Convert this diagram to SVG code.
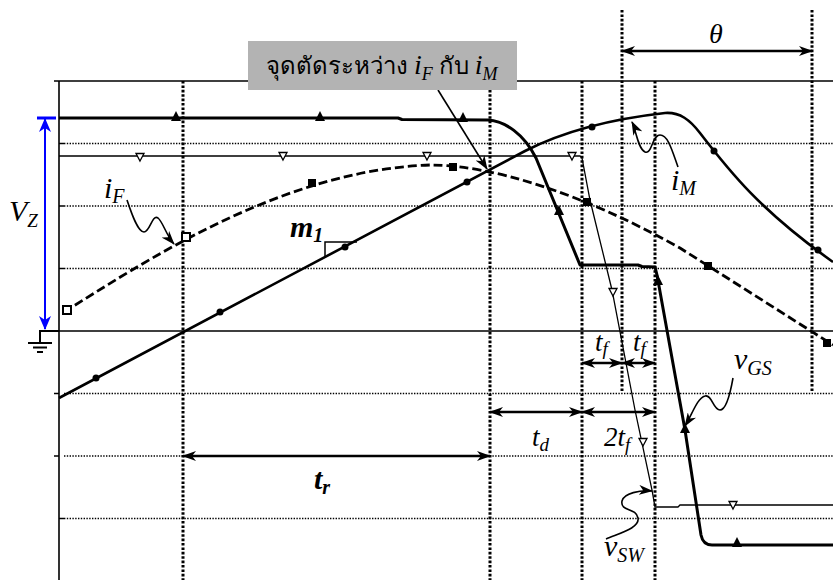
<svg xmlns="http://www.w3.org/2000/svg" width="833" height="580" viewBox="0 0 833 580">
<defs>
<style>
.hdot{stroke:#000;stroke-width:1.3;stroke-dasharray:1.4 1.4;fill:none}
.vdot{stroke:#000;stroke-width:3;stroke-dasharray:2.6 1.8;fill:none}
.solid{stroke:#000;stroke-width:1.6;fill:none}
.vgs{stroke:#000;stroke-width:3;fill:none;stroke-linejoin:round}
.im{stroke:#000;stroke-width:2.6;fill:none}
.if{stroke:#000;stroke-width:2.8;fill:none;stroke-dasharray:9 4}
.vsw{stroke:#000;stroke-width:1.3;fill:none}
.dim{stroke:#000;stroke-width:2.4;fill:none;marker-start:url(#ah);marker-end:url(#ah)}
.sq{stroke:#000;stroke-width:1.6;fill:none;marker-end:url(#ah)}
.t{font-family:"Liberation Serif","DejaVu Serif",serif;font-style:italic;fill:#000}
.b{font-weight:bold}
.otri{fill:#fff;stroke:#000;stroke-width:1.3}
.dot{fill:#000}
</style>
<marker id="ah" viewBox="0 0 14 10" refX="13" refY="5" markerWidth="14" markerHeight="10" markerUnits="userSpaceOnUse" orient="auto-start-reverse">
<path d="M0,0 L14,5 L0,10 L4,5 Z" fill="#000"/>
</marker>
<marker id="bh" viewBox="0 0 14 12" refX="13" refY="6" markerWidth="14" markerHeight="12" markerUnits="userSpaceOnUse" orient="auto-start-reverse">
<path d="M0,0 L14,6 L0,12 L4,6 Z" fill="#00f"/>
</marker>
<path id="utri" d="M0,-6 L5,4 L-5,4 Z"/>
<path id="dtri" d="M0,4 L4,-3.5 L-4,-3.5 Z"/>
</defs>
<rect width="833" height="580" fill="#fff"/>

<g id="grid">
<path class="hdot" d="M64,143.5H833M64,206H833M64,268.5H833M64,393.5H833M64,456H833M64,518.5H833"/>
<path class="solid" d="M54,81H833M59,331H833M59,81V580M59,143.5H64M59,206H64M59,268.5H64M54,393.5H59M54,456H59M59,518.5H64"/>
<path class="vdot" d="M183,81V580M490,81V580M582,81V580M655,81V580M622,10V392M812,10V392"/>
</g>

<g id="vGS">
<path class="vgs" d="M59,118 L398,118 L402,119.5 L488,120 C505,121 524,134 536,158 L580,265 L638,265 L642,266.5 L655,267 L657,275 L685,430 L701,535 Q703,545 712,545 L833,545"/>
<use href="#utri" x="176" y="117"/><use href="#utri" x="320" y="117"/><use href="#utri" x="463" y="118"/><use href="#utri" x="559" y="211"/><use href="#utri" x="658" y="281"/><use href="#utri" x="685" y="429"/><use href="#utri" x="737" y="543"/>
</g>

<g id="iM">
<path class="im" d="M59,398 L525,151 C570,128 620,118 665,113 C680,112 690,120 700,133 C730,172 760,210 833,262"/>
<circle class="dot" cx="96" cy="378" r="3.5"/><circle class="dot" cx="220" cy="312" r="3.5"/><circle class="dot" cx="345" cy="247" r="3.5"/><circle class="dot" cx="467" cy="182" r="3.5"/><circle class="dot" cx="592" cy="127" r="3.5"/><circle class="dot" cx="714" cy="151" r="3.5"/><circle class="dot" cx="818" cy="250" r="3.5"/>
</g>

<g id="iF">
<path class="if" d="M64,312 C140,265 280,170 430,165 C490,165 580,192 680,248 L833,345"/>
<rect x="63" y="306" width="8" height="8" fill="#fff" stroke="#000" stroke-width="2"/>
<rect x="182" y="233" width="8" height="8" fill="#fff" stroke="#000" stroke-width="2"/>
<rect x="308" y="179" width="8" height="8" fill="#000"/>
<rect x="449" y="163" width="8" height="8" fill="#000"/>
<rect x="583" y="198" width="8" height="8" fill="#000"/>
<rect x="704" y="262" width="8" height="8" fill="#000"/>
<rect x="823" y="339" width="8" height="8" fill="#000"/>
</g>

<g id="vSW">
<path class="vsw" d="M59,156 L580,156 L582,158 L590,200 L612,290 L635,410 L652,490 L655,507 L678,507 L680,505 L833,505"/>
<use class="otri" href="#dtri" x="140" y="157"/><use class="otri" href="#dtri" x="283" y="156"/><use class="otri" href="#dtri" x="427" y="156"/><use class="otri" href="#dtri" x="572" y="156"/><use class="otri" href="#dtri" x="613" y="292"/><use class="otri" href="#dtri" x="643" y="442"/><use class="otri" href="#dtri" x="733" y="505"/>
</g>

<g id="VZ">
<path d="M37,118H56" stroke="#00f" stroke-width="3"/>
<path d="M45,119V329" stroke="#00f" stroke-width="2" fill="none" marker-start="url(#bh)" marker-end="url(#bh)"/>
<path d="M40,343V331H59M28,343H52M33,347.5H47M37,352H43" stroke="#000" stroke-width="2" fill="none"/>
<text class="t" x="9" y="221" font-size="30">V<tspan font-size="19" dy="6">Z</tspan></text>
</g>

<g id="slope">
<path d="M325,258V242H357" stroke="#000" stroke-width="1.5" fill="none"/>
<text class="t b" x="290" y="237" font-size="30">m<tspan font-size="20" dy="5">1</tspan></text>
</g>

<g id="connectors">
<path class="dim" d="M622,51H812"/>
<path class="dim" d="M183,456H490"/>
<path class="dim" d="M490,412H582"/>
<path class="dim" d="M582,412H655"/>
<path class="dim" d="M582,363H622"/>
<path class="dim" d="M622,363H655"/>
<path class="sq" d="M438,90 L487,169"/>
<path class="sq" d="M127,200 C132,215 138,232 144,232 C150,232 152,214 158,218 C163,222 166,235 174,244"/>
<path class="sq" d="M678,167 C672,150 668,135 660,135 C652,135 652,155 645,152 C638,149 636,130 632,122"/>
<path class="sq" d="M733,378 C730,395 726,410 720,410 C713,410 712,394 705,396 C697,398 692,415 685,426"/>
<path class="sq" d="M606,539 C620,533 640,528 638,518 C636,507 620,512 622,501 C624,493 640,490 652,491"/>
</g>

<g id="callout">
<rect x="248" y="41" width="269" height="49" fill="#b3b3b3"/>
<text x="266" y="74" font-size="24" font-family="Liberation Serif,Noto Sans,serif" fill="#000">จุดตัดระหว่าง <tspan class="t" font-size="28">i</tspan><tspan class="t" font-size="18" dy="6">F</tspan><tspan dy="-6"> กับ </tspan><tspan class="t" font-size="28">i</tspan><tspan class="t" font-size="18" dy="6">M</tspan></text>
</g>

<g id="labels">
<text class="t" x="716" y="43" font-size="28" text-anchor="middle">θ</text>
<text class="t" x="104" y="198" font-size="30">i<tspan font-size="20" dy="5">F</tspan></text>
<text class="t" x="671" y="190" font-size="30">i<tspan font-size="20" dy="5">M</tspan></text>
<text class="t" x="734" y="369" font-size="30">v<tspan font-size="20" dy="6">GS</tspan></text>
<text class="t" x="604" y="556" font-size="30">v<tspan font-size="20" dy="6">SW</tspan></text>
<text class="t b" x="314" y="489" font-size="30">t<tspan font-size="20" dy="5">r</tspan></text>
<text class="t" x="532" y="446" font-size="27">t<tspan font-size="19" dy="5">d</tspan></text>
<text class="t" x="604" y="446" font-size="27">2t<tspan font-size="19" dy="5">f</tspan></text>
<text class="t" x="595" y="351" font-size="27">t<tspan font-size="19" dy="4">f</tspan></text>
<text class="t" x="633" y="351" font-size="27">t<tspan font-size="19" dy="4">f</tspan></text>
</g>
</svg>
